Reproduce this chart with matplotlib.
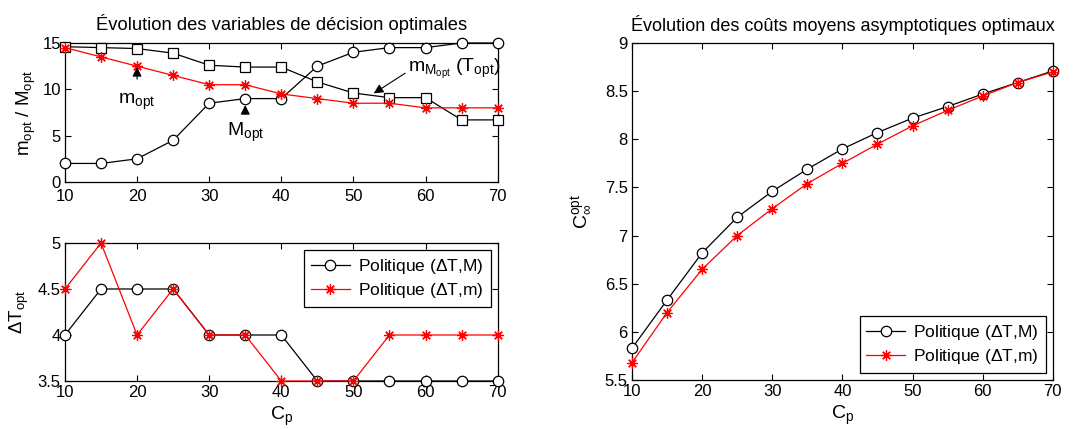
import matplotlib.pyplot as plt

plt.rcParams['font.family'] = ['Liberation Sans', 'DejaVu Sans']
plt.rcParams['mathtext.fontset'] = 'custom'
plt.rcParams['mathtext.rm'] = 'Liberation Sans'
plt.rcParams['mathtext.it'] = 'Liberation Sans'
plt.rcParams['mathtext.bf'] = 'Liberation Sans:bold'

# Données
cp = [10, 15, 20, 25, 30, 35, 40, 45, 50, 55, 60, 65, 70]

M_opt = [2, 2, 2.5, 4.5, 8.5, 9, 9, 12.5, 14, 14.5, 14.5, 15, 15]
mM_opt = [14.6, 14.5, 14.4, 13.9, 12.6, 12.4, 12.4, 10.8, 9.6, 9.1, 9.1, 6.7, 6.7]
m_opt = [14.5, 13.5, 12.5, 11.5, 10.5, 10.5, 9.5, 9, 8.5, 8.5, 8, 8, 8]

dT_M = [4, 4.5, 4.5, 4.5, 4, 4, 4, 3.5, 3.5, 3.5, 3.5, 3.5, 3.5]
dT_m = [4.5, 5, 4, 4.5, 4, 4, 3.5, 3.5, 3.5, 4, 4, 4, 4]

C_M = [5.83, 6.33, 6.82, 7.19, 7.46, 7.69, 7.90, 8.07, 8.22, 8.34, 8.47, 8.59, 8.71]
C_m = [5.68, 6.20, 6.65, 7.00, 7.28, 7.54, 7.75, 7.95, 8.14, 8.30, 8.45, 8.59, 8.70]

lab_M = 'Politique ($\\Delta$T,M)'
lab_m = 'Politique ($\\Delta$T,m)'

fs = 12
etoile = (8, 2, 0)
styleM = dict(color='black', lw=0.9, marker='o', ms=7.5, mfc='white', mec='black', mew=0.9, clip_on=False)
stylem = dict(color='red', lw=0.9, marker=etoile, ms=7.5, mec='red', mew=0.9, clip_on=False)

fig = plt.figure(figsize=(10.79, 4.29), dpi=100)
ax1 = fig.add_axes([0.0602, 0.5758, 0.401, 0.324])
ax2 = fig.add_axes([0.0602, 0.1119, 0.401, 0.3217])
ax3 = fig.add_axes([0.5857, 0.1142, 0.390, 0.7855])

def style(ax):
    ax.tick_params(direction='in', top=True, right=True, labelsize=fs, length=4, width=0.8, pad=3)
    for s in ax.spines.values():
        s.set_linewidth(0.9)
        s.set_zorder(1)
    ax.set_xlim(10, 70)
    ax.set_xticks(range(10, 71, 10))

def legende(ax, loc):
    leg = ax.legend(loc=loc, fontsize=12.5, fancybox=False, edgecolor='black',
                    framealpha=1, borderpad=0.4, handlelength=2.2, borderaxespad=0.4,
                    handletextpad=0.5, labelspacing=0.3)
    leg.get_frame().set_linewidth(0.9)

# Graphe du haut
ax1.plot(cp, M_opt, **styleM)
ax1.plot(cp, mM_opt, color='black', lw=0.9, marker='s', ms=6.5, mfc='white', mec='black', mew=0.9, clip_on=False)
ax1.plot(cp, m_opt, **stylem)
style(ax1)
ax1.tick_params(axis='x', pad=5)
ax1.set_ylim(0, 15)
ax1.set_yticks([0, 5, 10, 15])
ax1.set_title('Évolution des variables de décision optimales', fontsize=13.2, pad=9)
ax1.set_ylabel('m$_{opt}$ / M$_{opt}$', fontsize=13.5, labelpad=3)

fl = dict(arrowstyle='-|>', color='black', lw=0.8, mutation_scale=14)
ax1.annotate('', xy=(20, 12.7), xytext=(20, 10.8), arrowprops=fl)
ax1.text(20, 8.6, 'm$_{opt}$', fontsize=14, ha='center', va='center')
ax1.annotate('', xy=(35, 8.6), xytext=(35, 7.0), arrowprops=fl)
ax1.text(35, 5.3, 'M$_{opt}$', fontsize=14, ha='center', va='center')
ax1.annotate('', xy=(52.5, 9.4), xytext=(57.5, 11.9), arrowprops=fl)
ax1.text(57.6, 12.2, 'm$_{M_{opt}}$ (T$_{opt}$)', fontsize=14, ha='left', va='center')

# Graphe du bas
ax2.plot(cp, dT_M, label=lab_M, **styleM)
ax2.plot(cp, dT_m, label=lab_m, **stylem)
style(ax2)
ax2.set_ylim(3.5, 5)
ax2.set_yticks([3.5, 4, 4.5, 5])
ax2.set_yticklabels(['3.5', '4', '4.5', '5'])
ax2.set_ylabel('$\\Delta$T$_{opt}$', fontsize=13.5, labelpad=5)
ax2.set_xlabel('C$_p$', fontsize=14, labelpad=3)
legende(ax2, 'upper right')

# Graphe de droite
ax3.plot(cp, C_M, label=lab_M, **styleM)
ax3.plot(cp, C_m, label=lab_m, **stylem)
style(ax3)
ax3.set_ylim(5.5, 9)
ax3.set_yticks([5.5, 6, 6.5, 7, 7.5, 8, 8.5, 9])
ax3.set_yticklabels(['5.5', '6', '6.5', '7', '7.5', '8', '8.5', '9'])
ax3.set_title('Évolution des coûts moyens asymptotiques optimaux', fontsize=13, pad=9)
ax3.set_ylabel('C$_{\\infty}^{opt}$', fontsize=14, labelpad=8)
ax3.set_xlabel('C$_p$', fontsize=14, labelpad=3)
legende(ax3, 'lower right')

fig.savefig('out.png', dpi=100)
